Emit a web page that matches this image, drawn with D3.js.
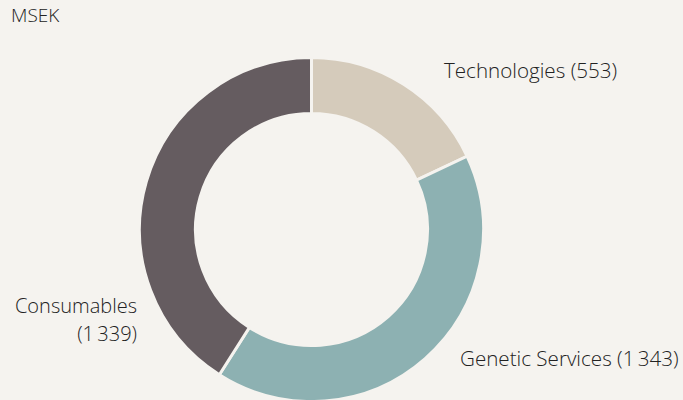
<!DOCTYPE html>
<html>
<head>
<meta charset="utf-8">
<script src="https://cdn.jsdelivr.net/npm/d3@7"></script>
<style>
  body { margin: 0; background: #f5f3ef; }
  text { font-family: "Open Sans", Lato, sans-serif; font-weight: 300; fill: #222; }
</style>
</head>
<body>
<svg id="chart"></svg>
<script>
// segment names, sales (MSEK) and share of total (%) used for the slices
const segments = ["Technologies", "Genetic Services", "Consumables"];
const sales = ["553", "1\u2009343", "1\u2009339"];
const shares = [18, 41, 41];
const colors = ["#d5cbbb", "#8db1b2", "#655c60"];

const width = 683, height = 400;
const cx = 311.5, cy = 229.5, outerR = 172, innerR = 116;

const svg = d3.select('#chart')
    .attr('width', width)
    .attr('height', height);

svg.append('text')
    .attr('x', 11)
    .attr('y', 22)
    .style('font-size', '19px')
    .text('MSEK');

const data = segments.map((s, i) => ({name: s, share: shares[i], label: sales[i], color: colors[i]}));

const pie = d3.pie().sort(null).value(d => d.share);
const arc = d3.arc().innerRadius(innerR).outerRadius(outerR);

const g = svg.append('g')
    .attr('transform', `translate(${cx},${cy})`);

g.selectAll('path')
    .data(pie(data))
    .join('path')
    .attr('d', arc)
    .attr('fill', d => d.data.color)
    .attr('stroke', '#f5f3ef')
    .attr('stroke-width', 3);

// labels
const labels = svg.append('g').style('font-size', '20px');
labels.append('text')
    .attr('x', 444).attr('y', 78)
    .style('font-size', '20.6px')
    .text(`${data[0].name} (${data[0].label})`);
labels.append('text')
    .attr('x', 460).attr('y', 366)
    .style('font-size', '20.6px')
    .text(`${data[1].name} (${data[1].label})`);
labels.append('text')
    .attr('x', 137).attr('y', 313)
    .attr('text-anchor', 'end')
    .text(data[2].name);
labels.append('text')
    .attr('x', 137).attr('y', 341)
    .attr('text-anchor', 'end')
    .text(`(${data[2].label})`);
</script>
</body>
</html>
